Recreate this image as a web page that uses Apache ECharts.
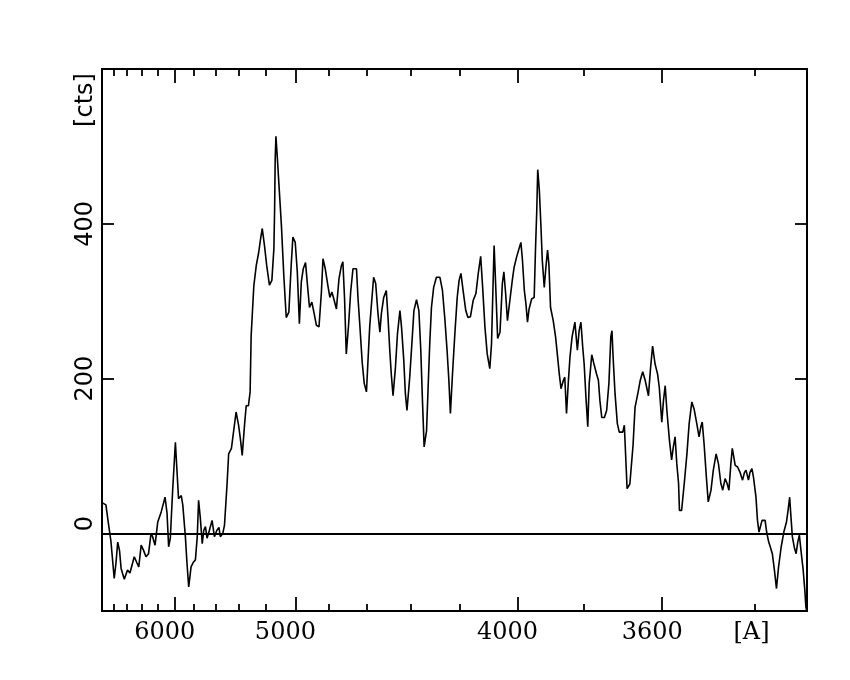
<!DOCTYPE html>
<html><head><meta charset="utf-8">
<script src="https://cdn.jsdelivr.net/npm/echarts@6/dist/echarts.min.js"></script>
<style>html,body{margin:0;padding:0;background:#fff}#c{width:850px;height:680px}</style>
</head><body><div id="c"></div>
<script>
// Wavelength in Angstrom (axis is linear in 1/lambda^2)
const wavelengths = [
7000,6933,6891,6851,6797,6769,6742,6714,6690,6642,
6595,6560,6499,6466,6437,6405,6372,6342,6309,6278,
6258,6228,6195,6154,6109,6086,6068,6049,6023,5993,
5978,5959,5930,5914,5887,5870,5853,5829,5806,5786,
5768,5755,5739,5720,5706,5690,5675,5654,5629,5608,
5587,5568,5556,5535,5520,5498,5485,5462,5424,5404,
5390,5375,5357,5344,5327,5314,5306,5286,5268,5250,
5236,5224,5208,5192,5173,5156,5142,5137,5133,5128,
5118,5107,5091,5075,5059,5042,5027,5016,5001,4988,
4975,4963,4951,4937,4927,4913,4899,4887,4872,4857,
4843,4834,4821,4806,4795,4784,4773,4759,4745,4732,
4724,4715,4706,4694,4683,4671,4653,4645,4636,4624,
4614,4603,4596,4587,4577,4568,4558,4547,4538,4531,
4520,4508,4500,4492,4485,4477,4466,4457,4446,4439,
4429,4422,4415,4403,4393,4385,4374,4364,4356,4349,
4342,4332,4326,4319,4312,4303,4292,4278,4268,4259,
4250,4243,4237,4229,4220,4211,4204,4197,4189,4179,
4171,4162,4152,4142,4134,4125,4118,4110,4102,4093,
4087,4081,4078,4072,4066,4058,4050,4045,4039,4033,
4025,4017,4011,4003,3995,3989,3984,3978,3973,3968,
3963,3955,3947,3943,3939,3936,3931,3926,3922,3916,
3911,3906,3902,3897,3889,3882,3876,3871,3866,3859,
3855,3850,3845,3840,3834,3826,3819,3814,3809,3804,
3800,3795,3790,3786,3779,3773,3766,3761,3757,3752,
3745,3739,3733,3728,3725,3722,3717,3711,3706,3697,
3693,3686,3679,3671,3666,3659,3653,3647,3641,3633,
3628,3623,3617,3611,3607,3601,3597,3593,3589,3583,
3578,3574,3570,3566,3562,3560,3555,3549,3543,3538,
3532,3527,3521,3516,3512,3509,3505,3500,3496,3490,
3485,3479,3474,3469,3465,3460,3456,3452,3448,3445,
3439,3434,3429,3424,3420,3417,3412,3409,3405,3402,
3397,3394,3391,3385,3379,3376,3372,3369,3365,3361,
3357,3353,3348,3343,3338,3335,3332,3330,3327,3323,
3320,3317,3314,3311,3307,3304,3302,3300];

// Counts [cts]
const counts = [
40,37,13,-9,-58,-38,-11,-22,-45,-59,
-47,-51,-30,-37,-43,-15,-22,-30,-26,0,
-4,-15,15,28,47,26,-17,-6,56,118,
86,45,49,37,-4,-39,-69,-43,-37,-34,
-4,43,21,-13,4,9,-6,4,17,-4,
4,8,-4,0,11,65,103,110,157,140,
123,101,140,165,165,183,256,320,346,363,
381,394,372,346,321,327,368,419,484,513,
484,449,398,333,279,286,346,383,376,338,
271,325,342,350,325,292,299,286,269,267,
312,355,342,320,305,312,303,290,329,346,
351,303,232,269,312,342,342,303,269,221,
194,183,220,267,301,331,323,284,260,284,
305,314,279,237,206,178,215,258,288,267,
224,181,159,202,249,288,302,288,237,172,
112,133,185,245,292,318,331,331,314,279,
237,198,155,206,258,305,327,336,314,288,
279,280,301,310,335,358,318,267,232,213,
245,331,372,314,252,260,323,338,310,275,
301,327,344,357,368,376,353,314,297,273,
290,303,305,366,417,470,443,396,353,318,
344,366,348,292,275,254,228,206,187,198,
202,155,194,228,254,273,237,262,273,241,
219,176,138,194,231,219,206,198,172,150,
150,159,194,254,262,228,181,142,131,131,
140,58,64,114,163,181,198,209,198,178,
213,242,219,206,189,144,172,191,159,120,
95,112,125,90,65,30,30,65,103,142,
170,161,142,125,138,144,116,73,41,56,
82,103,90,65,56,71,65,56,90,110,
88,86,79,69,79,82,69,79,84,73,
47,17,2,17,17,2,-11,-17,-26,-47,
-71,-43,-17,2,15,30,47,26,-4,-19,
-26,-11,-2,-22,-47,-73,-95,-102];

const xRange = [7000, 3300];
const xMajorTicks = [6000, 5000, 4000, 3600];
const xMinorTicks = [6800, 6600, 6400, 6200, 5800, 5600, 5400, 5200, 4800, 4600, 4400, 4200, 3800, 3400];
const xUnitLabel = '[A]';
const xUnitAt = 3400;
const yRange = [-100, 600];
const yTicks = [0, 200, 400];
const yUnitLabel = '[cts]';
const yUnitAt = 560;

const toU = l => 1e8 / (l * l);
const fromU = u => Math.round(1e4 / Math.sqrt(u));

const black = '#000';
const xBase = {
  type: 'value', min: toU(xRange[0]), max: toU(xRange[1]),
  splitLine: { show: false },
  axisLine: { show: true, onZero: false, lineStyle: { color: black, width: 2 } },
  axisLabel: { show: false }
};
function xAx(pos, ticks, len, withLabels) {
  const a = Object.assign({}, xBase, {
    position: pos,
    axisTick: { show: true, inside: true, length: len, customValues: ticks.map(toU), lineStyle: { color: black, width: 1.8 } }
  });
  if (withLabels) {
    a.axisLabel = {
      show: true,
      customValues: xMajorTicks.concat([xUnitAt]).map(toU),
      formatter: v => { const l = fromU(v); return l === xUnitAt ? '{u|' + xUnitLabel + '}' : String(l); },
      fontFamily: 'DejaVu Serif', fontSize: 24, color: black, margin: 10,
      padding: [0, 20, 0, 0],
      rich: { u: { fontFamily: 'DejaVu Serif', fontSize: 24, color: black, padding: [0, 0, 0, 14] } }
    };
  }
  return a;
}
function yAx(pos, withLabels) {
  const a = {
    type: 'value', position: pos, min: yRange[0], max: yRange[1],
    splitLine: { show: false },
    axisLine: { show: true, onZero: false, lineStyle: { color: black, width: 2 } },
    axisTick: { show: true, inside: true, length: 12, customValues: yTicks, lineStyle: { color: black, width: 1.8 } },
    axisLabel: { show: false }
  };
  if (withLabels) {
    a.axisLabel = {
      show: true, rotate: 90,
      customValues: yTicks.concat([yUnitAt]),
      formatter: v => v === yUnitAt ? yUnitLabel : (v === 0 ? '{z|0}' : String(v)),
      fontFamily: 'DejaVu Sans', fontSize: 24, color: black, margin: 4,
      rich: { z: { fontFamily: 'DejaVu Sans', fontSize: 24, color: black, padding: [0, 0, 0, 20] } }
    };
  }
  return a;
}

const chart = echarts.init(document.getElementById('c'), null, { renderer: 'canvas' });
chart.setOption({
  animation: false,
  backgroundColor: '#fff',
  grid: { left: 102, right: 43, top: 69, bottom: 69 },
  xAxis: [
    xAx('bottom', xMajorTicks, 14, true),
    xAx('bottom', xMinorTicks, 7, false),
    xAx('top', xMajorTicks, 14, false),
    xAx('top', xMinorTicks, 7, false)
  ],
  yAxis: [yAx('left', true), yAx('right', false)],
  series: [{
    type: 'line', xAxisIndex: 0, yAxisIndex: 0,
    data: wavelengths.map((l, i) => [toU(l), counts[i]]),
    symbol: 'none', showSymbol: false, clip: true,
    lineStyle: { color: black, width: 1.6 },
    emphasis: { disabled: true },
    markLine: {
      silent: true, symbol: ['none', 'none'], label: { show: false },
      lineStyle: { color: black, width: 1.8, type: 'solid' },
      emphasis: { disabled: true },
      data: [{ yAxis: 0 }]
    }
  }]
});
</script></body></html>
